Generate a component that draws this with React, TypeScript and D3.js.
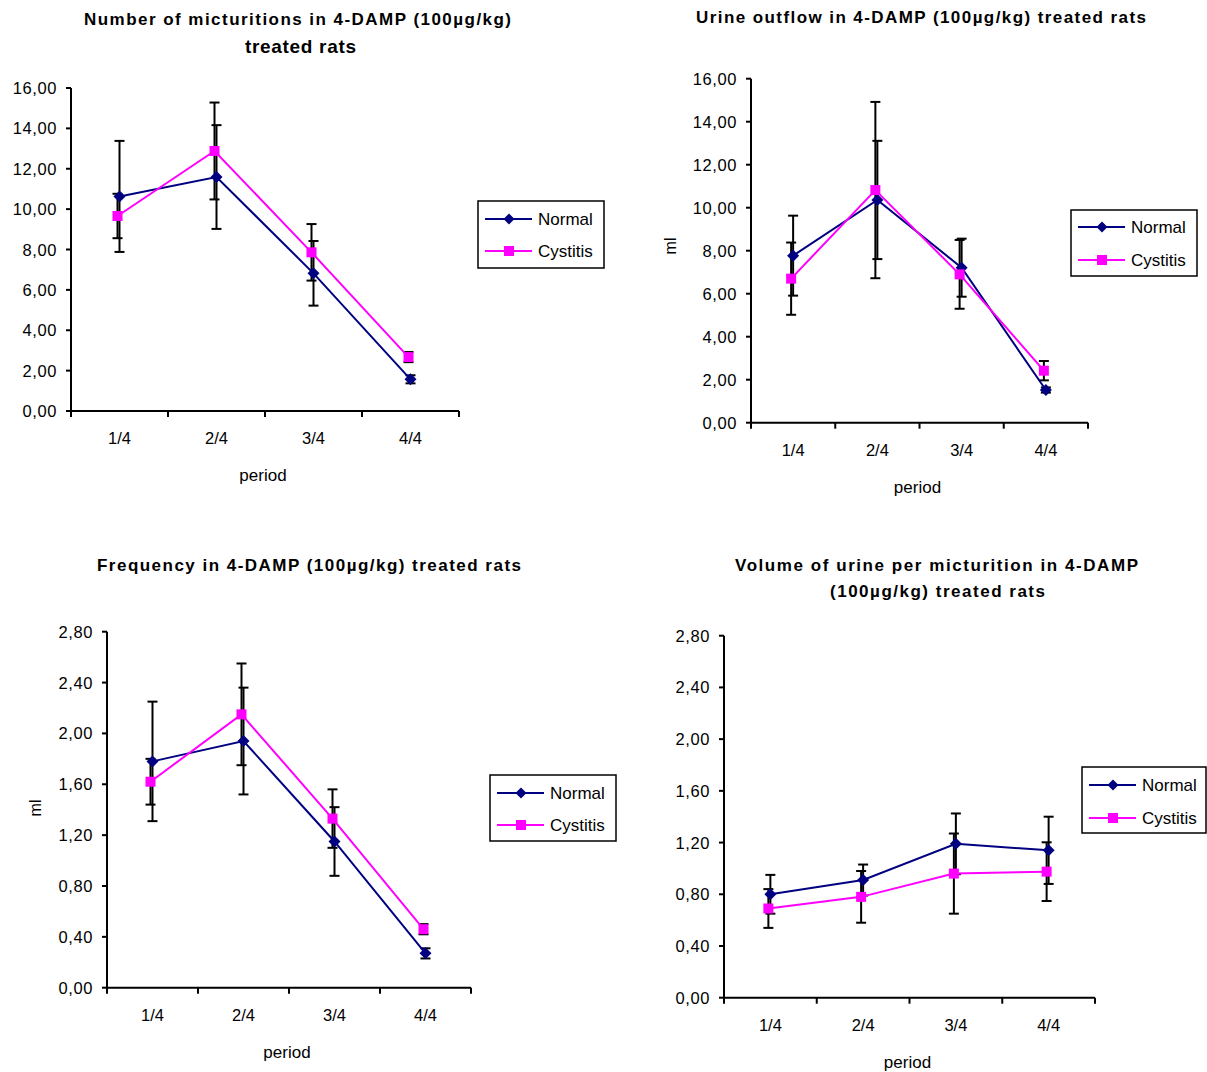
import React from "react";
import * as d3 from "d3";

const periods = ["1/4", "2/4", "3/4", "4/4"];
const seriesNames = ["Normal", "Cystitis"];

const micturitionsNormal = [10.63, 11.59, 6.82, 1.57];
const micturitionsNormalErr = [2.75, 2.57, 1.6, 0.2];
const micturitionsCystitis = [9.66, 12.88, 7.86, 2.67];
const micturitionsCystitisErr = [1.1, 2.4, 1.4, 0.25];

const outflowNormal = [7.77, 10.36, 7.21, 1.52];
const outflowNormalErr = [1.86, 2.75, 1.35, 0.12];
const outflowCystitis = [6.7, 10.82, 6.9, 2.42];
const outflowCystitisErr = [1.68, 4.1, 1.6, 0.45];

const frequencyNormal = [1.78, 1.94, 1.15, 0.27];
const frequencyNormalErr = [0.47, 0.42, 0.27, 0.04];
const frequencyCystitis = [1.62, 2.15, 1.33, 0.46];
const frequencyCystitisErr = [0.18, 0.4, 0.23, 0.04];

const volumeNormal = [0.8, 0.91, 1.19, 1.14];
const volumeNormalErr = [0.15, 0.12, 0.235, 0.26];
const volumeCystitis = [0.69, 0.78, 0.96, 0.975];
const volumeCystitisErr = [0.15, 0.2, 0.31, 0.227];

const ticksLarge = [0, 2, 4, 6, 8, 10, 12, 14, 16];
const ticksSmall = [0, 0.4, 0.8, 1.2, 1.6, 2.0, 2.4, 2.8];

const NAVY = "#000080";
const MAGENTA = "#FF00FF";
const FONT = "'Liberation Sans', Arial, sans-serif";

type TitleLine = { text: string; cx: number; y: number; w: number; size: number };

type Panel = {
  left: number; right: number; top: number; bottom: number;
  ticks: number[];
  normal: number[]; normalErr: number[];
  cystitis: number[]; cystitisErr: number[];
  titles: TitleLine[];
  ylabel?: { text: string; x: number; y: number };
  legend: { x: number; y: number; w: number; h: number; r1: number; r2: number };
};

const fmt = (v: number) => d3.format(".2f")(v).replace(".", ",");

function diamond(cx: number, cy: number, r: number) {
  return `M${cx},${cy - r}L${cx + r},${cy}L${cx},${cy + r}L${cx - r},${cy}Z`;
}

function ChartPanel({ p }: { p: Panel }) {
  const x = d3.scaleBand<string>().domain(periods).range([p.left, p.right]).padding(0);
  const y = d3.scaleLinear().domain([p.ticks[0], p.ticks[p.ticks.length - 1]]).range([p.bottom, p.top]);
  const cx = (d: string) => (x(d) as number) + x.bandwidth() / 2;
  const cOff = -2;
  const line = d3.line<number>().x((_, i) => cx(periods[i])).y((v) => y(v));
  const lineC = d3.line<number>().x((_, i) => cx(periods[i]) + cOff).y((v) => y(v));
  const edges = [...periods.map((d) => x(d) as number), p.right];
  const errBars = (vals: number[], errs: number[], off: number) =>
    vals.map((v, i) => {
      const xx = cx(periods[i]) + off;
      const y1 = y(v + errs[i]);
      const y2 = y(v - errs[i]);
      return (
        <g key={i} stroke="#000" strokeWidth={2}>
          <line x1={xx} x2={xx} y1={y1} y2={y2} />
          <line x1={xx - 5} x2={xx + 5} y1={y1} y2={y1} />
          <line x1={xx - 5} x2={xx + 5} y1={y2} y2={y2} />
        </g>
      );
    });
  const lg = p.legend;
  return (
    <g fontFamily={FONT}>
      {p.titles.map((t, i) => (
        <text key={i} x={t.cx} y={t.y} textAnchor="middle" fontWeight="bold" fontSize={t.size}
          textLength={t.w} lengthAdjust="spacing">{t.text}</text>
      ))}
      {/* y axis */}
      <line x1={p.left} x2={p.left} y1={p.top} y2={p.bottom} stroke="#000" strokeWidth={2} />
      {p.ticks.map((t) => (
        <g key={t}>
          <line x1={p.left - 5} x2={p.left} y1={y(t)} y2={y(t)} stroke="#000" strokeWidth={2} />
          <text x={p.left - 14} y={y(t) + 6} textAnchor="end" fontSize={16.5} letterSpacing={0.6}>{fmt(t)}</text>
        </g>
      ))}
      {/* x axis */}
      <line x1={p.left} x2={p.right} y1={p.bottom} y2={p.bottom} stroke="#000" strokeWidth={2} />
      {edges.map((e, i) => (
        <line key={i} x1={e} x2={e} y1={p.bottom} y2={p.bottom + 6} stroke="#000" strokeWidth={2} />
      ))}
      {periods.map((d) => (
        <text key={d} x={cx(d)} y={p.bottom + 33} textAnchor="middle" fontSize={16.5}>{d}</text>
      ))}
      <text x={(p.left + p.right) / 2 - 2} y={p.bottom + 70} textAnchor="middle" fontSize={17}>period</text>
      {p.ylabel && (
        <text transform={`translate(${p.ylabel.x},${p.ylabel.y}) rotate(-90)`} textAnchor="middle" fontSize={16}>{p.ylabel.text}</text>
      )}
      {/* error bars */}
      {errBars(p.normal, p.normalErr, 0)}
      {errBars(p.cystitis, p.cystitisErr, cOff)}
      {/* lines */}
      <path d={line(p.normal) as string} fill="none" stroke={NAVY} strokeWidth={2} />
      <path d={lineC(p.cystitis) as string} fill="none" stroke={MAGENTA} strokeWidth={2} />
      {p.normal.map((v, i) => (
        <path key={"n" + i} d={diamond(cx(periods[i]), y(v), 6)} fill={NAVY} />
      ))}
      {p.cystitis.map((v, i) => (
        <rect key={"c" + i} x={cx(periods[i]) + cOff - 5} y={y(v) - 5} width={10} height={10} fill={MAGENTA} />
      ))}
      {/* legend */}
      <rect x={lg.x} y={lg.y} width={lg.w} height={lg.h} fill="#fff" stroke="#000" strokeWidth={1.5} />
      <line x1={lg.x + 7} x2={lg.x + 54} y1={lg.y + lg.r1} y2={lg.y + lg.r1} stroke={NAVY} strokeWidth={2} />
      <path d={diamond(lg.x + 31, lg.y + lg.r1, 5.5)} fill={NAVY} />
      <text x={lg.x + 60} y={lg.y + lg.r1 + 6} fontSize={17}>{seriesNames[0]}</text>
      <line x1={lg.x + 7} x2={lg.x + 54} y1={lg.y + lg.r2} y2={lg.y + lg.r2} stroke={MAGENTA} strokeWidth={2} />
      <rect x={lg.x + 26} y={lg.y + lg.r2 - 5} width={10} height={10} fill={MAGENTA} />
      <text x={lg.x + 60} y={lg.y + lg.r2 + 6} fontSize={17}>{seriesNames[1]}</text>
    </g>
  );
}

const panels: Panel[] = [
  {
    left: 71, right: 459, top: 88, bottom: 411, ticks: ticksLarge,
    normal: micturitionsNormal, normalErr: micturitionsNormalErr,
    cystitis: micturitionsCystitis, cystitisErr: micturitionsCystitisErr,
    titles: [
      { text: "Number of micturitions in 4-DAMP (100µg/kg)", cx: 297.5, y: 25, w: 427, size: 17 },
      { text: "treated rats", cx: 300.5, y: 53, w: 111, size: 19 },
    ],
    legend: { x: 478, y: 201, w: 126, h: 67, r1: 18, r2: 50 },
  },
  {
    left: 751, right: 1088, top: 78.7, bottom: 422.7, ticks: ticksLarge,
    normal: outflowNormal, normalErr: outflowNormalErr,
    cystitis: outflowCystitis, cystitisErr: outflowCystitisErr,
    titles: [
      { text: "Urine outflow in 4-DAMP (100µg/kg) treated rats", cx: 921, y: 23, w: 450, size: 17 },
    ],
    ylabel: { text: "ml", x: 676, y: 246 },
    legend: { x: 1071, y: 210, w: 126, h: 66, r1: 17, r2: 50 },
  },
  {
    left: 107, right: 471, top: 631.7, bottom: 987.7, ticks: ticksSmall,
    normal: frequencyNormal, normalErr: frequencyNormalErr,
    cystitis: frequencyCystitis, cystitisErr: frequencyCystitisErr,
    titles: [
      { text: "Frequency in 4-DAMP (100µg/kg) treated rats", cx: 309, y: 571, w: 424, size: 17 },
    ],
    ylabel: { text: "ml", x: 41, y: 808 },
    legend: { x: 490, y: 775, w: 126, h: 66, r1: 18, r2: 50 },
  },
  {
    left: 724, right: 1095, top: 635.7, bottom: 997.7, ticks: ticksSmall,
    normal: volumeNormal, normalErr: volumeNormalErr,
    cystitis: volumeCystitis, cystitisErr: volumeCystitisErr,
    titles: [
      { text: "Volume of urine per micturition in 4-DAMP", cx: 936.5, y: 571, w: 403, size: 17 },
      { text: "(100µg/kg) treated rats", cx: 937.5, y: 597, w: 215, size: 17 },
    ],
    legend: { x: 1082, y: 767, w: 124, h: 66, r1: 18, r2: 51 },
  },
];

export default function App() {
  return (
    <svg width={1207} height={1072} style={{ position: "absolute", left: 0, top: 0, background: "#fff" }}>
      <rect width={1207} height={1072} fill="#fff" />
      {panels.map((p, i) => (
        <ChartPanel key={i} p={p} />
      ))}
    </svg>
  );
}
